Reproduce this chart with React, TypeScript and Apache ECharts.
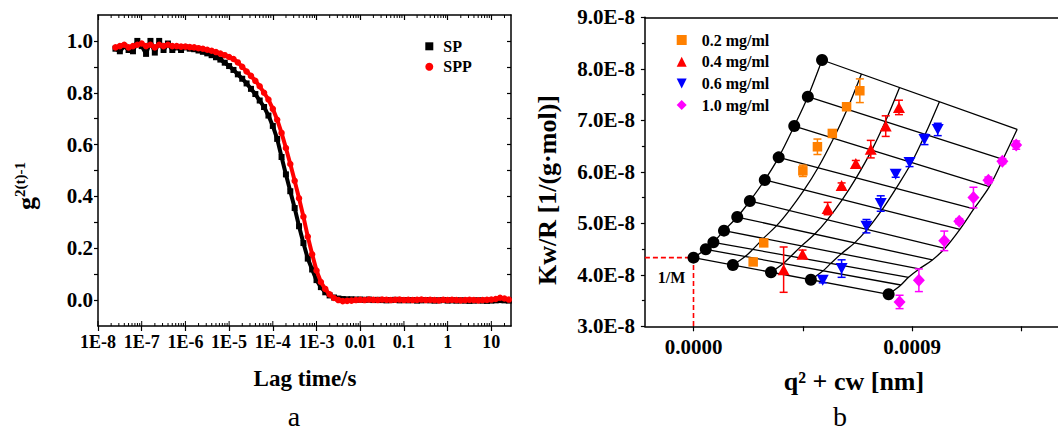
import React, { useEffect, useRef } from "react";
import * as echarts from "echarts";

const FONT = "'Liberation Serif', 'Times New Roman', serif";

// ---------- Panel a : correlation functions ----------
const lagLog10 = [
  -7.6, -7.5, -7.4, -7.3, -7.2, -7.1, -7.0, -6.9, -6.8, -6.7, -6.6, -6.5, -6.4, -6.3, -6.2, -6.1,
  -6.0, -5.9, -5.8, -5.7, -5.6, -5.5, -5.4, -5.3, -5.2, -5.1, -5.0, -4.9, -4.8, -4.7, -4.6, -4.5,
  -4.4, -4.3, -4.2, -4.1, -4.0, -3.9, -3.8, -3.7, -3.6, -3.5, -3.4, -3.3, -3.2, -3.1, -3.0, -2.9,
  -2.8, -2.7, -2.6, -2.5, -2.4, -2.3, -2.2, -2.1, -2.0, -1.9, -1.8, -1.7, -1.6, -1.5, -1.4, -1.3,
  -1.2, -1.1, -1.0, -0.9, -0.8, -0.7, -0.6, -0.5, -0.4, -0.3, -0.2, -0.1, 0.0, 0.1, 0.2, 0.3,
  0.4, 0.5, 0.6, 0.7, 0.8, 0.9, 1.0, 1.1, 1.2, 1.3, 1.4,
];
const spValues = [
  0.97, 0.96, 0.98, 0.965, 0.96, 1.0, 0.98, 0.95, 1.0, 0.955, 1.0, 0.965, 0.99, 0.965, 0.975, 0.965,
  0.975, 0.97, 0.968, 0.963, 0.958, 0.952, 0.945, 0.937, 0.928, 0.916,
  0.903, 0.888, 0.871, 0.854, 0.836, 0.815, 0.795, 0.77, 0.745, 0.712, 0.672, 0.622, 0.552, 0.485,
  0.42, 0.355, 0.285, 0.22, 0.16, 0.118, 0.077, 0.05, 0.03, 0.018, 0.01, 0.006, 0.004,
  0.003, 0.003, 0.002, 0.002, 0.001, 0.002, 0.0, 0.001, 0.0, -0.001, 0.0, 0.001, -0.001, 0.0,
  -0.001, 0.0, -0.002, -0.001, 0.0, -0.001, -0.002, -0.001, 0.0, -0.002, -0.001, -0.002, -0.001, -0.002,
  -0.003, -0.002, -0.001, -0.002, -0.003, -0.002, -0.001, 0.0, -0.001, -0.002,
];
const sppValues = [
  0.975, 0.98, 0.985, 0.975, 0.98, 0.985, 0.99, 0.98, 0.985, 0.975, 0.985, 0.98, 0.985, 0.98, 0.98, 0.978,
  0.978, 0.976, 0.975, 0.972, 0.97, 0.966, 0.962, 0.957, 0.951, 0.945,
  0.938, 0.93, 0.917, 0.9, 0.882, 0.865, 0.846, 0.825, 0.8, 0.774, 0.738, 0.696, 0.645, 0.587,
  0.525, 0.46, 0.393, 0.322, 0.245, 0.177, 0.114, 0.07, 0.043, 0.022, 0.008, 0.0, -0.004,
  -0.003, -0.002, 0.0, 0.001, 0.0, 0.002, 0.001, 0.0, 0.002, 0.001, 0.0, 0.001, 0.002, 0.0,
  0.001, 0.0, 0.001, 0.002, 0.0, 0.001, 0.0, -0.001, 0.001, 0.0, 0.001, 0.0, -0.001, 0.0,
  0.001, 0.0, -0.001, 0.0, 0.001, 0.002, 0.004, 0.009, 0.006, 0.002,
];
const lagTickExp = [-8, -7, -6, -5, -4, -3, -2, -1, 0, 1];
const lagTickLabels = ["1E-8", "1E-7", "1E-6", "1E-5", "1E-4", "1E-3", "0.01", "0.1", "1", "10"];
const gLabelValues = [0, 0.2, 0.4, 0.6, 0.8, 1.0];
const gTickValues = [0, 0.1, 0.2, 0.3, 0.4, 0.5, 0.6, 0.7, 0.8, 0.9, 1.0];

// ---------- Panel b : Zimm plot (x in 1e-4, y in 1e-8) ----------
const angleQ2 = [0, 0.505, 0.819, 1.255, 1.8, 2.319, 2.933, 3.505, 4.146, 4.705, 5.29];
const kcRAtC0 = [4.333, 4.495, 4.63, 4.857, 5.122, 5.433, 5.841, 6.281, 6.889, 7.459, 8.171];
const kcRAtC1 = [3.621, 3.802, 3.951, 4.113, 4.288, 4.515, 4.883, 5.278, 5.711, 6.243, 6.825];
const concShift = [1.62, 3.19, 4.83, 8.03];
const concNames = ["0.2 mg/ml", "0.4 mg/ml", "0.6 mg/ml", "1.0 mg/ml"];
const concColors = ["#ff8000", "#ff0000", "#0000ff", "#ff00ff"];
// [x, y, error]
const conc02 = [[6.845, 7.574, 0.23], [6.3, 7.263, 0.05], [5.713, 6.745, 0.05], [5.1, 6.486, 0.15], [4.5, 6.019, 0.11], [2.89, 4.62, 0.04], [2.455, 4.25, 0.03]];
const conc04 = [[8.455, 7.25, 0.14], [7.91, 6.887, 0.2], [7.295, 6.44, 0.17], [6.68, 6.16, 0.06], [6.095, 5.734, 0.05], [5.52, 5.287, 0.12], [4.486, 4.4, 0.08], [3.709, 4.1, 0.44]];
const conc06 = [[10.05, 6.822, 0.12], [9.505, 6.628, 0.1], [8.89, 6.181, 0.08], [8.32, 5.954, 0.06], [7.705, 5.384, 0.15], [7.118, 4.944, 0.13], [6.095, 4.121, 0.17], [5.318, 3.894, 0.05]];
const conc10 = [[13.28, 6.518, 0.08], [12.71, 6.207, 0.05], [12.136, 5.838, 0.06], [11.52, 5.5, 0.2], [10.936, 5.04, 0.05], [10.32, 4.659, 0.19], [9.275, 3.894, 0.22], [8.48, 3.473, 0.13]];
const concData = [conc02, conc04, conc06, conc10];
const qTickValues = [0, 4.5, 9, 13.5];
const qLabelValues = [0, 9];

const DOWN_TRI = "path://M0,0L10,0L5,10Z";
const concSymbols = ["rect", "triangle", DOWN_TRI, "diamond"];
const concSizes: any[] = [9.5, [12, 11], [12, 11], [12, 13]];

export default function App() {
  const ref = useRef<HTMLDivElement>(null);
  useEffect(() => {
    const chart = echarts.init(ref.current!, null, { renderer: "svg" });
    const black = "#000";
    const axisLine = { show: true, onZero: false, lineStyle: { color: black, width: 1.5 } };

    const minorLog: number[] = [];
    for (let d = -8; d <= 1; d++) {
      for (let m = 2; m <= 9; m++) {
        const v = d + Math.log10(m);
        if (v <= 1.45) minorLog.push(v);
      }
    }
    const tickData = [...lagTickExp.map((v) => [v, 1]), ...minorLog.map((v) => [v, 0])];

    const lastShift = concShift[concShift.length - 1];
    const angleLines = angleQ2.map((q, i) => ({
      coords: [[q, kcRAtC0[i]], [q + lastShift, kcRAtC1[i]]],
    }));
    const curveShifts = [0, ...concShift];
    const curves = curveShifts.map((s) =>
      angleQ2.map((q, i) => [q + s, kcRAtC0[i] + ((kcRAtC1[i] - kcRAtC0[i]) * s) / lastShift])
    );
    const blackDots = [
      ...angleQ2.map((q, i) => [q, kcRAtC0[i]]),
      ...concShift.map((s) => [s, kcRAtC0[0] + ((kcRAtC1[0] - kcRAtC0[0]) * s) / lastShift]),
    ];

    const legendText = (pad: number) => ({
      fontFamily: FONT,
      fontWeight: "bold",
      fontSize: 16,
      color: black,
      lineHeight: 16,
      padding: [0, 0, 0, pad],
    });

    const option: any = {
      animation: false,
      backgroundColor: "#fff",
      textStyle: { fontFamily: FONT },
      grid: [
        { left: 98, top: 15, width: 413, height: 311 },
        { left: 644.9, top: 17.3, width: 419.8, height: 309 },
      ],
      legend: [
        {
          data: [{ name: "SP", icon: "rect" }, { name: "SPP", icon: "circle" }],
          orient: "vertical",
          left: 420.3,
          top: 33.3,
          itemWidth: 8,
          itemHeight: 8,
          itemGap: 4.4,
          selectedMode: false,
          textStyle: legendText(5),
        },
        {
          data: concNames.map((n, i) => ({ name: n, icon: concSymbols[i] })),
          orient: "vertical",
          left: 671.7,
          top: 27,
          itemWidth: 10,
          itemHeight: 10,
          itemGap: 5.7,
          selectedMode: false,
          textStyle: legendText(10),
        },
      ],
      xAxis: [
        {
          gridIndex: 0,
          type: "value",
          min: -8,
          max: 1.45,
          position: "bottom",
          axisLine,
          splitLine: { show: false },
          axisTick: { show: true, customValues: lagTickExp, length: 5, lineStyle: { color: black, width: 1.2 } },
          axisLabel: {
            customValues: lagTickExp,
            formatter: (v: number) => {
              const i = lagTickExp.findIndex((e) => Math.abs(e - v) < 1e-6);
              return i >= 0 ? lagTickLabels[i] : "";
            },
            fontSize: 18,
            fontWeight: "bold",
            fontFamily: FONT,
            color: black,
            margin: 7,
          },
        },
        {
          gridIndex: 0,
          type: "value",
          min: -8,
          max: 1.45,
          position: "top",
          axisLine,
          splitLine: { show: false },
          axisTick: { show: true, inside: true, customValues: lagTickExp, length: 5, lineStyle: { color: black, width: 1.2 } },
          axisLabel: { show: false },
        },
        {
          gridIndex: 1,
          type: "value",
          min: -2,
          max: 15,
          position: "bottom",
          axisLine,
          splitLine: { show: false },
          axisTick: { show: true, customValues: qTickValues, length: 5, lineStyle: { color: black, width: 1.2 } },
          axisLabel: {
            customValues: qLabelValues,
            formatter: (v: number) => (v / 10000).toFixed(4),
            fontSize: 21,
            fontWeight: "bold",
            fontFamily: FONT,
            color: black,
            margin: 10,
          },
        },
        {
          gridIndex: 1,
          type: "value",
          min: -2,
          max: 15,
          position: "top",
          axisLine,
          splitLine: { show: false },
          axisTick: { show: false },
          axisLabel: { show: false },
        },
      ],
      yAxis: [
        {
          gridIndex: 0,
          type: "value",
          min: -0.1,
          max: 1.1,
          position: "left",
          axisLine,
          splitLine: { show: false },
          axisTick: { show: true, customValues: gTickValues, length: 4, lineStyle: { color: black, width: 1.2 } },
          axisLabel: {
            customValues: gLabelValues,
            formatter: (v: number) => v.toFixed(1),
            fontSize: 21,
            fontWeight: "bold",
            fontFamily: FONT,
            color: black,
            margin: 5,
          },
        },
        {
          gridIndex: 0,
          type: "value",
          min: -0.1,
          max: 1.1,
          position: "right",
          axisLine,
          splitLine: { show: false },
          axisTick: { show: true, inside: true, customValues: gTickValues, length: 4, lineStyle: { color: black, width: 1.2 } },
          axisLabel: { show: false },
        },
        {
          gridIndex: 1,
          type: "value",
          min: 3,
          max: 9,
          interval: 1,
          position: "left",
          axisLine,
          splitLine: { show: false },
          axisTick: { show: true, length: 4, lineStyle: { color: black, width: 1.2 } },
          minorTick: { show: true, splitNumber: 2, length: 3, lineStyle: { color: black, width: 1.2 } },
          minorSplitLine: { show: false },
          axisLabel: {
            formatter: (v: number) => `${v.toFixed(1)}E-8`,
            fontSize: 21,
            fontWeight: "bold",
            fontFamily: FONT,
            color: black,
            margin: 10,
          },
        },
      ],
      series: [
        // log minor ticks for panel a
        {
          type: "custom",
          xAxisIndex: 0,
          yAxisIndex: 0,
          silent: true,
          z: 10,
          data: tickData,
          renderItem: (_p: any, api: any) => {
            const v = api.value(0);
            const major = api.value(1) === 1;
            const b = api.coord([v, -0.1]);
            const t = api.coord([v, 1.1]);
            const style = { stroke: black, lineWidth: 1 };
            const children: any[] = [
              { type: "line", shape: { x1: b[0], y1: b[1], x2: b[0], y2: b[1] - (major ? 5 : 3) }, style },
            ];
            if (!major) {
              children.push({ type: "line", shape: { x1: t[0], y1: t[1], x2: t[0], y2: t[1] + 3 }, style });
            }
            return { type: "group", children };
          },
        },
        {
          name: "SP",
          type: "line",
          xAxisIndex: 0,
          yAxisIndex: 0,
          data: lagLog10.map((x, i) => [x, spValues[i]]),
          symbol: "rect",
          symbolSize: 6,
          showAllSymbol: true,
          itemStyle: { color: black },
          lineStyle: { color: black, width: 4 },
          z: 3,
        },
        {
          name: "SPP",
          type: "line",
          xAxisIndex: 0,
          yAxisIndex: 0,
          data: lagLog10.map((x, i) => [x, sppValues[i]]),
          symbol: "circle",
          symbolSize: 6.5,
          showAllSymbol: true,
          itemStyle: { color: "#ff0000" },
          lineStyle: { color: "#ff0000", width: 4 },
          z: 4,
        },
        // Zimm grid
        {
          type: "lines",
          coordinateSystem: "cartesian2d",
          xAxisIndex: 2,
          yAxisIndex: 2,
          silent: true,
          data: angleLines,
          lineStyle: { color: black, width: 1.3, opacity: 1 },
          z: 2,
        },
        ...curves.map((pts) => ({
          type: "line",
          xAxisIndex: 2,
          yAxisIndex: 2,
          data: pts,
          smooth: 0.35,
          symbol: "none",
          silent: true,
          lineStyle: { color: black, width: 1.3 },
          z: 2,
        })),
        {
          type: "line",
          xAxisIndex: 2,
          yAxisIndex: 2,
          data: [[-2, kcRAtC0[0]], [0, kcRAtC0[0]], [0, 3]],
          symbol: "none",
          silent: true,
          lineStyle: { color: "#ff0000", width: 1.6, type: [5, 3] },
          z: 6,
        },
        // error bars
        ...concData.map((d, k) => ({
          type: "custom",
          xAxisIndex: 2,
          yAxisIndex: 2,
          silent: true,
          z: 3,
          data: d,
          renderItem: (_p: any, api: any) => {
            const x = api.value(0);
            const y = api.value(1);
            const e = api.value(2);
            const t = api.coord([x, y + e]);
            const b = api.coord([x, y - e]);
            const style = { stroke: concColors[k], lineWidth: 1.5 };
            return {
              type: "group",
              children: [
                { type: "line", shape: { x1: t[0], y1: t[1], x2: b[0], y2: b[1] }, style },
                { type: "line", shape: { x1: t[0] - 4, y1: t[1], x2: t[0] + 4, y2: t[1] }, style },
                { type: "line", shape: { x1: b[0] - 4, y1: b[1], x2: b[0] + 4, y2: b[1] }, style },
              ],
            };
          },
        })),
        ...concData.map((d, k) => ({
          name: concNames[k],
          type: "scatter",
          xAxisIndex: 2,
          yAxisIndex: 2,
          data: d.map((p) => [p[0], p[1]]),
          symbol: concSymbols[k],
          symbolSize: concSizes[k],
          itemStyle: { color: concColors[k], opacity: 1 },
          z: 4,
        })),
        {
          type: "scatter",
          xAxisIndex: 2,
          yAxisIndex: 2,
          data: blackDots,
          symbol: "circle",
          symbolSize: 12,
          itemStyle: { color: black, opacity: 1 },
          silent: true,
          z: 7,
        },
      ],
      graphic: [
        {
          type: "text",
          x: 26.2,
          y: 210,
          rotation: Math.PI / 2,
          style: { text: "g", font: `bold 26px ${FONT}`, fill: black, textAlign: "left", textVerticalAlign: "middle" },
        },
        {
          type: "text",
          x: 20,
          y: 197,
          rotation: Math.PI / 2,
          style: { text: "2(t)-1", font: `bold 15px ${FONT}`, fill: black, textAlign: "left", textVerticalAlign: "middle" },
        },
        {
          type: "text",
          x: 305,
          y: 378,
          style: { text: "Lag time/s", font: `bold 23px ${FONT}`, fill: black, textAlign: "center", textVerticalAlign: "middle" },
        },
        {
          type: "text",
          x: 294,
          y: 416,
          style: { text: "a", font: `28px ${FONT}`, fill: black, textAlign: "center", textVerticalAlign: "middle" },
        },
        {
          type: "text",
          x: 547.6,
          y: 190,
          rotation: Math.PI / 2,
          style: { text: "Kw/R [1/(g·mol)]", font: `bold 26px ${FONT}`, fill: black, textAlign: "center", textVerticalAlign: "middle" },
        },
        {
          type: "text",
          x: 854,
          y: 381,
          style: { text: "q² + cw [nm]", font: `bold 26px ${FONT}`, fill: black, textAlign: "center", textVerticalAlign: "middle" },
        },
        {
          type: "text",
          x: 840,
          y: 416,
          style: { text: "b", font: `28px ${FONT}`, fill: black, textAlign: "center", textVerticalAlign: "middle" },
        },
        {
          type: "text",
          x: 671.5,
          y: 277,
          style: { text: "1/M", font: `bold 16px ${FONT}`, fill: black, textAlign: "center", textVerticalAlign: "middle" },
        },
      ],
    };
    chart.setOption(option);
    return () => chart.dispose();
  }, []);
  return (
    <div
      ref={ref}
      style={{ position: "fixed", left: 0, top: 0, width: 1058, height: 431, background: "#fff" }}
    />
  );
}
